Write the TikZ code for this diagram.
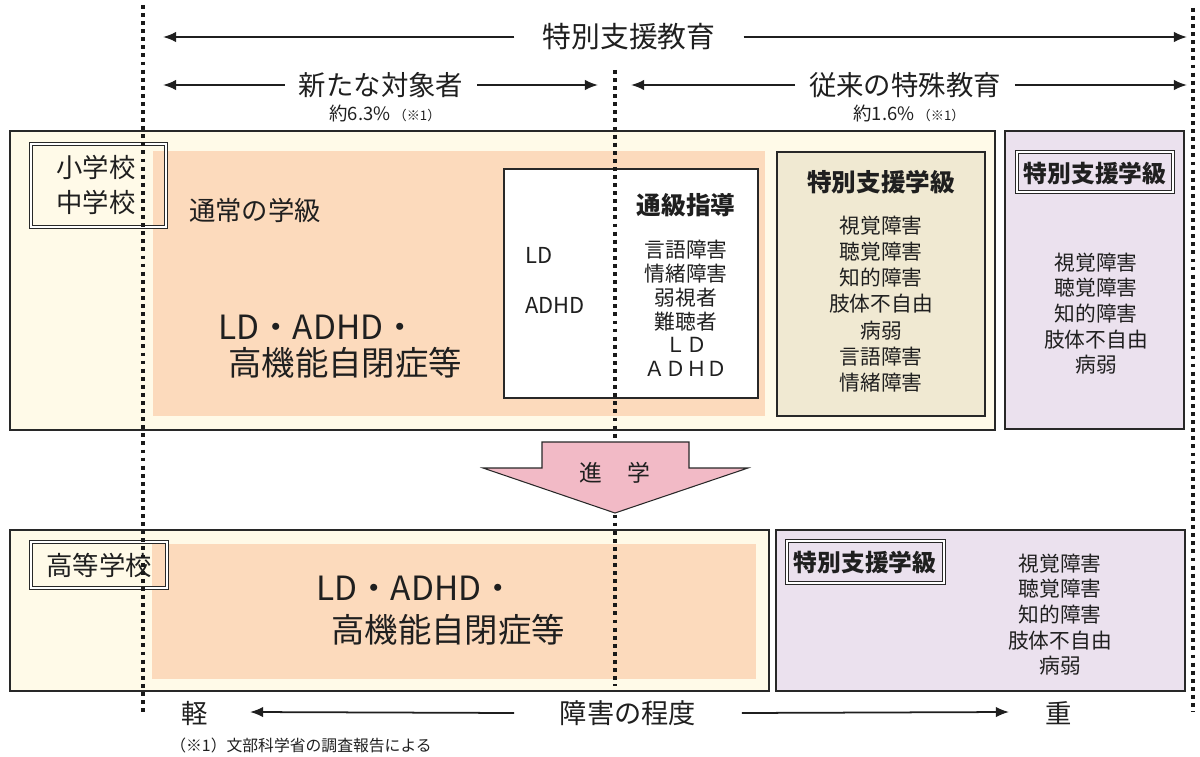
\documentclass[tikz,border=0pt]{standalone}
\usepackage{fontspec}
\setmainfont{Noto Sans CJK JP}
\usepackage{xcolor}
\usepackage{tikz}
\usetikzlibrary{arrows.meta}

\begin{document}
\begin{tikzpicture}[x=0.02cm,y=-0.02cm]
    \definecolor{mycream}{RGB}{255,250,232}
    \definecolor{mypeach}{RGB}{252,218,188}
    \definecolor{myolive}{RGB}{240,233,210}
    \definecolor{mypurple}{RGB}{235,225,238}
    \definecolor{mypink}{RGB}{242,186,198}
    \definecolor{myline}{RGB}{40,40,40}

    \tikzstyle{panel}=[draw=myline,line width=1.1pt]  % 外框
    \tikzstyle{inbox}=[draw=myline,line width=0.6pt]  % 内框
    \tikzstyle{tag}=[draw=myline,double=white,double distance=1.1pt,line width=0.35pt]  % 双线标签框
    \tikzstyle{dots}=[draw=black!90,line width=2.2pt,dash pattern=on 2.2pt off 2.4pt]  % 点线
    \tikzstyle{axis}=[-{Latex[length=7.5pt,width=6pt]},line width=1pt,draw=black!88]  % 箭头线
    \tikzstyle{txt}=[inner sep=0pt,text=black!88]
    \tikzstyle{list}=[txt,align=center]
    \tikzstyle{head}=[txt,font=\fontsize{15.6}{18}\selectfont,outer xsep=8pt]

    \useasboundingbox (0,0) rectangle (1200,757);

    % 小学校・中学校
    \draw[panel,fill=mycream] (10,131) rectangle (995,430);
    \fill[mypeach] (153,151) rectangle (765,416);
    \draw[inbox,fill=white] (504,169) rectangle (758,398);
    \draw[inbox,fill=myolive] (777,152) rectangle (985,416);
    \draw[panel,fill=mypurple] (1005,131) rectangle (1184,429);
    % 高等学校
    \draw[panel,fill=mycream] (10,530) rectangle (769,691);
    \fill[mypeach] (152,544) rectangle (756,679);
    \draw[panel,fill=mypurple] (776,530) rectangle (1185,691);
    % 标签框
    \draw[tag] (31,144) rectangle (166,227);
    \draw[tag] (1017,152) rectangle (1173,192);
    \draw[tag] (31,542) rectangle (167,588);
    \draw[tag] (787,541) rectangle (944,583);

    % 上方标题
    \node[txt,font=\fontsize{16.4}{18}\selectfont,outer xsep=16pt] (tokubetsu) at (629,37) {特別支援教育};
    \node[head] (shintana) at (381,85) {新たな対象者};
    \node[head] (juurai) at (905,85) {従来の特殊教育};
    \node[txt] (pctA) at (385,113) {\fontsize{10.5}{12}\selectfont 約6.3\%\,\fontsize{7.5}{9}\selectfont（※1）};
    \node[txt] (pctB) at (909,113) {\fontsize{10.5}{12}\selectfont 約1.6\%\,\fontsize{7.5}{9}\selectfont（※1）};
    \coordinate (tbL) at (163,37);
    \coordinate (tbR) at (1187,37);
    \coordinate (stL) at (163,85);
    \coordinate (stR) at (598,85);
    \coordinate (jrL) at (631,85);
    \coordinate (jrR) at (1187,85);
    \draw[axis] (tokubetsu.west) -- (tbL);
    \draw[axis] (tokubetsu.east) -- (tbR);
    \draw[axis] (shintana.west) -- (stL);
    \draw[axis] (shintana.east) -- (stR);
    \draw[axis] (juurai.west) -- (jrL);
    \draw[axis] (juurai.east) -- (jrR);

    % 上段文字
    \node[list,font=\fontsize{15}{19.8}\selectfont] (shochu) at (96,185) {小学校\\中学校};
    \node[txt,font=\fontsize{15}{18}\selectfont] (tsujo) at (255,210) {通常の学級};
    \node[txt,font=\fontsize{19}{22}\selectfont,anchor=west] (ldA) at (218,327) {LD・ADHD・};
    \node[txt,font=\fontsize{19}{22}\selectfont,anchor=west] (hfaA) at (228,363) {高機能自閉症等};
    \node[txt,font=\fontsize{12.5}{15}\selectfont,anchor=west] (ldW) at (525,255) {LD};
    \node[txt,font=\fontsize{12.5}{15}\selectfont,anchor=west] (adhdW) at (525,305) {ADHD};
    \node[txt,font=\bfseries\fontsize{14}{16}\selectfont] (tsukyu) at (686,205) {通級指導};
    \node[list,font=\fontsize{11.8}{13.5}\selectfont] (tsukyuList) at (686,308.5) {言語障害\\情緒障害\\弱視者\\難聴者\\ＬＤ\\ＡＤＨＤ};
    \node[txt,font=\bfseries\fontsize{14}{16}\selectfont] (tokuA) at (881,182) {特別支援学級};
    \node[list,font=\fontsize{11.8}{14.9}\selectfont] (listA) at (881,304) {視覚障害\\聴覚障害\\知的障害\\肢体不自由\\病弱\\言語障害\\情緒障害};
    \node[txt,font=\bfseries\fontsize{13.5}{16}\selectfont] (tokuB) at (1095,173) {特別支援学級};
    \node[list,font=\fontsize{11.8}{14.6}\selectfont] (listB) at (1096,313.5) {視覚障害\\聴覚障害\\知的障害\\肢体不自由\\病弱};

    % 下段文字
    \node[txt,font=\fontsize{15}{18}\selectfont] (koto) at (99,565) {高等学校};
    \node[txt,font=\fontsize{19}{22}\selectfont,anchor=west] (ldB) at (316,588) {LD・ADHD・};
    \node[txt,font=\fontsize{19}{22}\selectfont,anchor=west] (hfaB) at (331,630) {高機能自閉症等};
    \node[txt,font=\bfseries\fontsize{13.5}{16}\selectfont] (tokuC) at (865,562) {特別支援学級};
    \node[list,font=\fontsize{11.8}{14.6}\selectfont] (listC) at (1060,614.5) {視覚障害\\聴覚障害\\知的障害\\肢体不自由\\病弱};

    % 障害の程度
    \node[txt,font=\fontsize{15}{18}\selectfont] (kei) at (195,713) {軽};
    \node[txt,font=\fontsize{15.5}{18}\selectfont,outer xsep=26pt] (teido) at (628,713) {障害の程度};
    \node[txt,font=\fontsize{15}{18}\selectfont] (omoi) at (1059,713) {重};
    \coordinate (keiTip) at (250,712);
    \coordinate (omoiTip) at (1009,712);
    \draw[axis] (teido.west) -- (keiTip);
    \draw[axis] (teido.east) -- (omoiTip);
    \node[txt,font=\fontsize{9}{11}\selectfont,anchor=west] (note) at (170,745) {（※1）文部科学省の調査報告による};

    % 点线
    \coordinate (dAt) at (143,5);
    \coordinate (dAb) at (143,714);
    \coordinate (dBt) at (615,70);
    \coordinate (dBb) at (615,686);
    \coordinate (dCt) at (1193,8);
    \coordinate (dCb) at (1193,712);
    \draw[dots] (dAt) -- (dAb);
    \draw[dots] (dBt) -- (dBb);
    \draw[dots] (dCt) -- (dCb);

    % 進学の矢印
    \draw[inbox,fill=mypink] (542,442) -- (689,442) -- (689,468) -- (748,468)
        -- (615,513) -- (483,468) -- (542,468) -- cycle;
    \node[txt,font=\fontsize{13}{15}\selectfont] (shingaku) at (615,473) {進\hspace{1.1em}学};
\end{tikzpicture}
\end{document}
